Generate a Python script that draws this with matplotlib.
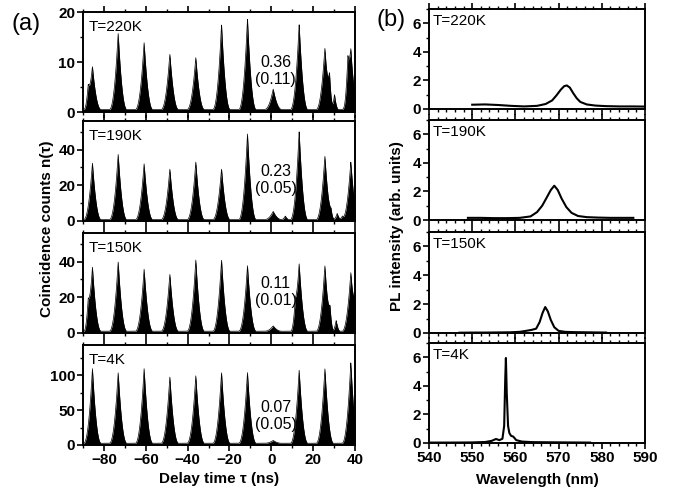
import numpy as np
import matplotlib
matplotlib.use("Agg")
import matplotlib.pyplot as plt
from matplotlib.ticker import MultipleLocator

plt.rcParams['font.family'] = ['Liberation Sans', 'DejaVu Sans']

# ---------------- data: panel (a) ----------------
temps = ["T=220K", "T=190K", "T=150K", "T=4K"]
peak_centers = [-85.5, -73.2, -60.8, -48.5, -36.1, -23.8, -11.4, 0.9, 13.3, 25.6, 38.0]
heights_220 = [8.6, 15.3, 13.4, 11.1, 10.4, 17.0, 18.1, 4.1, 17.0, 12.3, 11.8]
heights_190 = [31.7, 36.7, 31.3, 28.4, 32.3, 28.4, 48.1, 4.6, 49.3, 35.6, 32.3]
heights_150 = [36.0, 39.0, 34.8, 32.0, 40.0, 40.0, 36.8, 3.0, 37.8, 36.8, 32.8]
heights_4 = [107, 101.4, 107, 95.3, 96.7, 101.4, 101.4, 4.0, 104.7, 107, 115.3]
baselines = [0.5, 0.8, 1.0, 2.5]
# extra small features (position ns, height)
bumps_220_pos = [27.8, 30.2, 36.6, -87.5]
bumps_220_h = [5.0, 3.0, 6.0, 3.0]
bumps_190_pos = [28.5, 31.5, 34.0, 6.7]
bumps_190_h = [4.0, 3.5, 2.0, 2.0]
bumps_150_pos = [28.0, 31.0, 39.8, -87.5, 11.5]
bumps_150_h = [9.0, 6.0, 10.0, 10.0, 8.0]
bumps_4_pos = []
bumps_4_h = []
g2_values = ["0.36\n(0.11)", "0.23\n(0.05)", "0.11\n(0.01)", "0.07\n(0.05)"]
ylims_a = [20, 56, 56, 143]
yticks_a = [[0, 10, 20], [0, 20, 40], [0, 20, 40], [0, 50, 100]]
xticks_a = [-80, -60, -40, -20, 0, 20, 40]

# ---------------- data: panel (b) ----------------
wl_220 = [550, 553, 556, 559, 562, 565, 567, 568.5, 569.5, 570.5, 571.3, 571.9, 572.6, 573.4, 574.2, 575, 576.5, 578.5, 581, 584, 587, 590]
pl_220 = [0.3, 0.32, 0.28, 0.22, 0.18, 0.22, 0.35, 0.6, 0.95, 1.35, 1.6, 1.65, 1.5, 1.1, 0.75, 0.5, 0.32, 0.24, 0.2, 0.18, 0.18, 0.17]
wl_190 = [549, 552, 555, 558, 561, 563.5, 565, 566.2, 567.3, 568.2, 569.0, 569.8, 570.7, 571.8, 573, 574.5, 576.5, 579, 582, 585, 587.3]
pl_190 = [0.15, 0.15, 0.13, 0.13, 0.15, 0.25, 0.55, 1.0, 1.6, 2.1, 2.4, 2.1, 1.5, 0.9, 0.5, 0.28, 0.2, 0.17, 0.15, 0.15, 0.15]
wl_150 = [547, 550, 553, 556, 559, 561, 562.5, 563.8, 564.8, 565.6, 566.3, 566.9, 567.5, 568.2, 569, 570, 571.5, 573.5, 576, 578.5, 581]
pl_150 = [0.02, 0.03, 0.03, 0.04, 0.05, 0.08, 0.15, 0.22, 0.3, 0.75, 1.4, 1.8, 1.5, 0.9, 0.4, 0.15, 0.08, 0.06, 0.05, 0.04, 0.03]
wl_4 = [540, 545, 550, 553, 554.5, 555.5, 556.3, 557.0, 557.4, 557.65, 557.8, 558.0, 558.3, 558.6, 559.0, 559.5, 560.2, 561.5, 564, 568, 572, 577.3]
pl_4 = [0.03, 0.03, 0.04, 0.07, 0.15, 0.28, 0.2, 0.3, 1.2, 4.5, 5.95, 3.5, 1.2, 0.7, 0.5, 0.45, 0.2, 0.1, 0.06, 0.05, 0.04, 0.03]
xticks_b = [540, 550, 560, 570, 580, 590]
yticks_b = [0, 2, 4, 6]

# ---------------- figure ----------------
W, H = 682, 495
fig = plt.figure(figsize=(W / 100, H / 100), dpi=100)

def rect(x0, x1, top, bot):
    return [x0 / W, 1 - bot / H, (x1 - x0) / W, (bot - top) / H]

left_boxes = [(12, 112), (121, 221), (233, 333), (345, 445)]
right_boxes = [(9, 109), (120, 220), (232, 333), (343, 443)]

def style(ax, show_x):
    for s in ax.spines.values():
        s.set_linewidth(1.4)
    ax.tick_params(axis='both', which='major', direction='out', length=4, width=1.2,
                   top=True, right=False, labelsize=11, pad=1.5)
    ax.tick_params(axis='both', which='minor', direction='out', length=2.2, width=1.0,
                   top=True, right=False)
    for lab in ax.get_xticklabels() + ax.get_yticklabels():
        lab.set_fontweight('bold')
    if not show_x:
        ax.tick_params(axis='x', which='both', labelbottom=False)

t = np.linspace(-90, 40, 3001)
peak_w = 4.2

def shape(x, w):
    return np.clip(1 - np.abs(x) / w, 0, None) ** 2.2

heights_all = [heights_220, heights_190, heights_150, heights_4]
bumps_pos = [bumps_220_pos, bumps_190_pos, bumps_150_pos, bumps_4_pos]
bumps_h = [bumps_220_h, bumps_190_h, bumps_150_h, bumps_4_h]

for i in range(4):
    top, bot = left_boxes[i]
    ax = fig.add_axes(rect(83, 355, top, bot))
    y = np.full_like(t, baselines[i])
    for c, h in zip(peak_centers, heights_all[i]):
        y += h * shape(t - c, peak_w)
    for c, h in zip(bumps_pos[i], bumps_h[i]):
        y += h * shape(t - c, 2.0)
    ax.fill_between(t, 0, y, color='black', lw=0)
    ax.plot(t, y, color='black', lw=0.5)
    ax.set_xlim(-90, 40)
    ax.set_ylim(0, ylims_a[i])
    ax.set_xticks(xticks_a)
    ax.xaxis.set_minor_locator(MultipleLocator(10))
    ax.set_yticks(yticks_a[i])
    ax.yaxis.set_minor_locator(MultipleLocator(yticks_a[i][1] / 2))
    style(ax, i == 3)
    ax.text(0.022, 0.92, temps[i], transform=ax.transAxes, fontsize=11,
            ha='left', va='top')
    ax.text(2.0, 0.41 * ylims_a[i] if i < 3 else 0.29 * ylims_a[i], g2_values[i],
            fontsize=11.5, ha='center', va='center', linespacing=1.15, zorder=5)
    if i == 3:
        ax.set_xlabel("Delay time \u03c4 (ns)", fontsize=11, fontweight='bold', labelpad=4)

wl_all = [wl_220, wl_190, wl_150, wl_4]
pl_all = [pl_220, pl_190, pl_150, pl_4]
for i in range(4):
    top, bot = right_boxes[i]
    ax = fig.add_axes(rect(429, 645, top, bot))
    ax.plot(wl_all[i], pl_all[i], color='black', lw=1.5)
    ax.set_xlim(540, 590)
    ax.set_ylim(0, 7)
    ax.set_xticks(xticks_b)
    ax.xaxis.set_minor_locator(MultipleLocator(2))
    ax.set_yticks(yticks_b)
    ax.yaxis.set_minor_locator(MultipleLocator(1))
    style(ax, i == 3)
    ax.text(0.015, 0.95, temps[i], transform=ax.transAxes, fontsize=11,
            ha='left', va='top')
    if i == 3:
        ax.set_xlabel("Wavelength (nm)", fontsize=11, fontweight='bold', labelpad=6)

fig.text(47 / W, 1 - 229 / H, "Coincidence counts n(\u03c4)", rotation=90,
         fontsize=11, fontweight='bold', ha='center', va='center')
fig.text(397 / W, 1 - 226 / H, "PL intensity (arb. units)", rotation=90,
         fontsize=11, fontweight='bold', ha='center', va='center')
fig.text(26 / W, 1 - 24 / H, "(a)", fontsize=17, ha='center', va='center')
fig.text(391 / W, 1 - 20 / H, "(b)", fontsize=17, ha='center', va='center')

fig.savefig("out.png", dpi=100)
